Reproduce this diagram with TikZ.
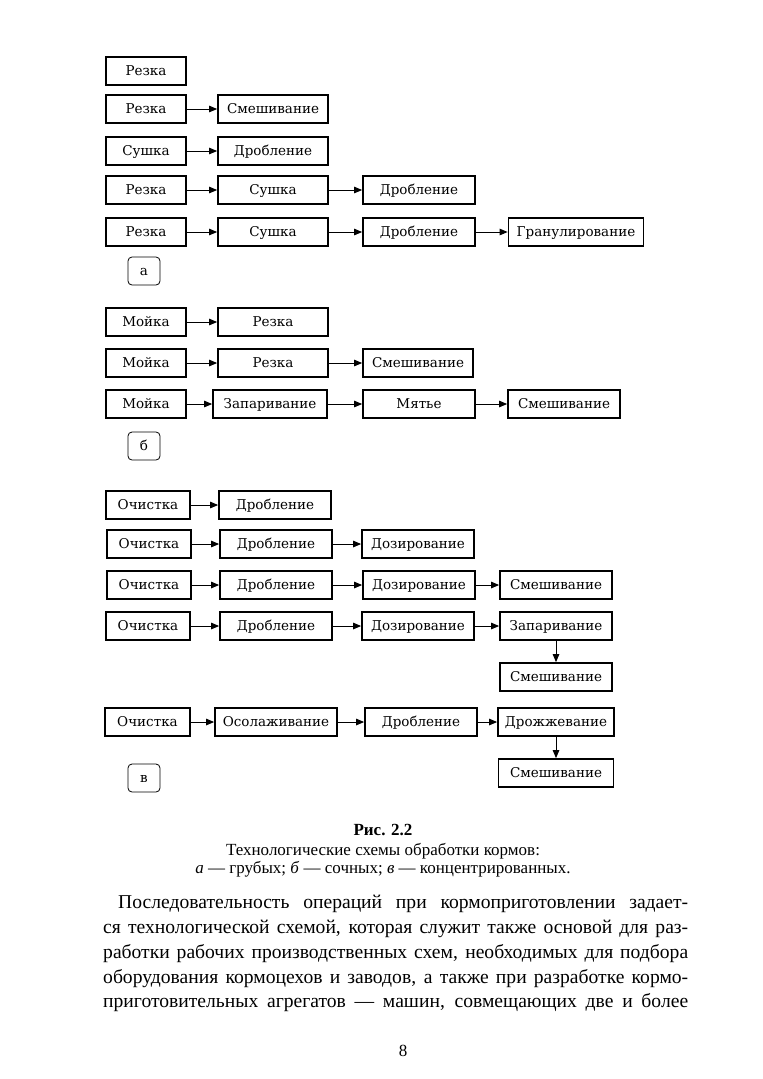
\documentclass[tikz,border=0pt]{standalone}
\usepackage{fontspec}
\setmainfont{Liberation Serif}
\newfontfamily\boxfont{DejaVu Serif}
\usetikzlibrary{arrows.meta}
\tikzset{
  bx/.style={draw, line width=1.7pt, minimum height=28pt, inner sep=0pt,
    text height=9.5pt, text depth=0.5pt,
    font=\boxfont\fontsize{13.5}{15}\selectfont},
  lbl/.style={draw, rounded corners=4pt, line width=0.8pt, minimum width=32pt,
    minimum height=28pt, inner sep=0pt, text height=9pt, text depth=0pt,
    font=\boxfont\fontsize{13.5}{15}\selectfont},
  ar/.style={-{Triangle[length=8pt,width=6.5pt]}, line width=1pt},
  txt/.style={inner sep=0pt, anchor=base},
  par/.style={inner sep=0pt, anchor=base west, font=\fontsize{19.6}{25}\selectfont}
}
\begin{document}
\begin{tikzpicture}[x=1pt,y=-1pt]
\useasboundingbox (0,0) rectangle (763,1079);
% ---- a
\node[bx, minimum width=80] (a11) at (146,71) {Резка};
\node[bx, minimum width=80] (a21) at (146,109) {Резка};
\node[bx, minimum width=110] (a22) at (273,109) {Смешивание};
\node[bx, minimum width=80] (a31) at (146,151) {Сушка};
\node[bx, minimum width=110] (a32) at (273,151) {Дробление};
\node[bx, minimum width=80] (a41) at (146,190) {Резка};
\node[bx, minimum width=110] (a42) at (273,190) {Сушка};
\node[bx, minimum width=112] (a43) at (419,190) {Дробление};
\node[bx, minimum width=80] (a51) at (146,232) {Резка};
\node[bx, minimum width=110] (a52) at (273,232) {Сушка};
\node[bx, minimum width=112] (a53) at (419,232) {Дробление};
\node[bx, minimum width=135] (a54) at (576,232) {Гранулирование};
\node[lbl] (la) at (144,271) {а};
\draw[ar] (a21) -- (a22);
\draw[ar] (a31) -- (a32);
\draw[ar] (a41) -- (a42);
\draw[ar] (a42) -- (a43);
\draw[ar] (a51) -- (a52);
\draw[ar] (a52) -- (a53);
\draw[ar] (a53) -- (a54);
% ---- b
\node[bx, minimum width=80] (b11) at (146,322) {Мойка};
\node[bx, minimum width=110] (b12) at (273,322) {Резка};
\node[bx, minimum width=80] (b21) at (146,363) {Мойка};
\node[bx, minimum width=110] (b22) at (273,363) {Резка};
\node[bx, minimum width=110] (b23) at (418,363) {Смешивание};
\node[bx, minimum width=80] (b31) at (146,404) {Мойка};
\node[bx, minimum width=114] (b32) at (270,404) {Запаривание};
\node[bx, minimum width=112] (b33) at (419,404) {Мятье};
\node[bx, minimum width=112] (b34) at (564,404) {Смешивание};
\node[lbl] (lb) at (144,446) {б};
\draw[ar] (b11) -- (b12);
\draw[ar] (b21) -- (b22);
\draw[ar] (b22) -- (b23);
\draw[ar] (b31) -- (b32);
\draw[ar] (b32) -- (b33);
\draw[ar] (b33) -- (b34);
% ---- v
\node[bx, minimum width=84] (c11) at (148,505) {Очистка};
\node[bx, minimum width=112] (c12) at (275,505) {Дробление};
\node[bx, minimum width=84] (c21) at (149,544) {Очистка};
\node[bx, minimum width=112] (c22) at (276,544) {Дробление};
\node[bx, minimum width=112] (c23) at (418,544) {Дозирование};
\node[bx, minimum width=84] (c31) at (149,585) {Очистка};
\node[bx, minimum width=112] (c32) at (276,585) {Дробление};
\node[bx, minimum width=112] (c33) at (419,585) {Дозирование};
\node[bx, minimum width=112] (c34) at (556,585) {Смешивание};
\node[bx, minimum width=84] (c41) at (148,626) {Очистка};
\node[bx, minimum width=112] (c42) at (276,626) {Дробление};
\node[bx, minimum width=112] (c43) at (418,626) {Дозирование};
\node[bx, minimum width=112] (c44) at (556,626) {Запаривание};
\node[bx, minimum width=112] (c45) at (556,677) {Смешивание};
\node[bx, minimum width=85] (c51) at (147.5,722) {Очистка};
\node[bx, minimum width=122] (c52) at (276,722) {Осолаживание};
\node[bx, minimum width=112] (c53) at (421,722) {Дробление};
\node[bx, minimum width=116] (c54) at (556,722) {Дрожжевание};
\node[bx, minimum width=115] (c55) at (556,773) {Смешивание};
\node[lbl] (lc) at (144,778) {в};
\draw[ar] (c11) -- (c12);
\draw[ar] (c21) -- (c22);
\draw[ar] (c22) -- (c23);
\draw[ar] (c31) -- (c32);
\draw[ar] (c32) -- (c33);
\draw[ar] (c33) -- (c34);
\draw[ar] (c41) -- (c42);
\draw[ar] (c42) -- (c43);
\draw[ar] (c43) -- (c44);
\draw[ar] (c44) -- (c45);
\draw[ar] (c51) -- (c52);
\draw[ar] (c52) -- (c53);
\draw[ar] (c53) -- (c54);
\draw[ar] (c54) -- (c55);
% ---- caption
\node[txt, font=\bfseries\fontsize{17}{20}\selectfont] (cap1) at (383,835) {Рис. 2.2};
\node[txt, font=\fontsize{17}{20}\selectfont] (cap2) at (383,855) {Технологические схемы обработки кормов:};
\node[txt, font=\fontsize{17}{20}\selectfont] (cap3) at (383,873) {\textit{а} — грубых; \textit{б} — сочных; \textit{в} — концентрированных.};
% ---- paragraph
\node[par] (p1) at (118,908) {\makebox[570pt][s]{Последовательность операций при кормоприготовлении задает-}};
\node[par] (p2) at (103,933) {\makebox[585pt][s]{ся технологической схемой, которая служит также основой для раз-}};
\node[par] (p3) at (103,958) {\makebox[585pt][s]{работки рабочих производственных схем, необходимых для подбора}};
\node[par] (p4) at (103,983) {\makebox[585pt][s]{оборудования кормоцехов и заводов, а также при разработке кормо-}};
\node[par] (p5) at (103,1007) {\makebox[585pt][s]{приготовительных агрегатов — машин, совмещающих две и более}};
\node[txt, font=\fontsize{17}{20}\selectfont] (pg) at (403,1056) {8};
\end{tikzpicture}
\end{document}
